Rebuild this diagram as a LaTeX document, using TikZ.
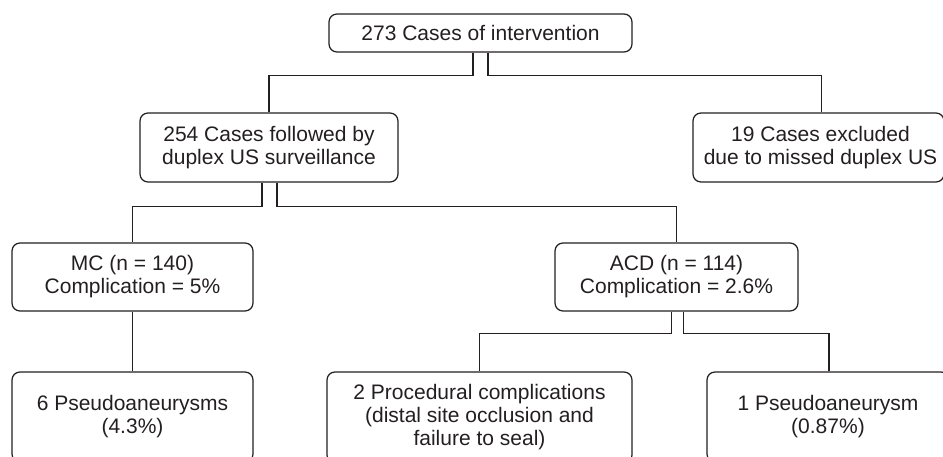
\documentclass[tikz,border=0pt]{standalone}
\usepackage{fontspec}
\setmainfont{Liberation Sans}
\definecolor{ink}{HTML}{231F20}
\begin{document}
\begin{tikzpicture}[x=1pt,y=-1pt,
  box/.style={draw=ink, line width=1.25pt, rounded corners=8pt, inner sep=0pt,
    align=center, text=ink, font=\fontsize{21}{23}\selectfont},
  link/.style={draw=ink, line width=1.25pt}]
\useasboundingbox (0,0) rectangle (943,457);
\clip (0,0) rectangle (943,457);
\node[box, minimum width=303pt, minimum height=38pt] (top) at (480.5,33) {273 Cases of intervention};
\node[box, minimum width=258pt, minimum height=69pt] (n254) at (269,147.5) {254 Cases followed by\\duplex US surveillance};
\node[box, minimum width=251pt, minimum height=69pt] (n19) at (818.5,147.5) {\hspace*{4pt}19 Cases excluded\\\hspace*{4pt}due to missed duplex US};
\node[box, minimum width=241pt, minimum height=68pt] (mc) at (132.5,277) {MC (n = 140)\\Complication = 5\%};
\node[box, minimum width=243pt, minimum height=68pt] (acd) at (676.5,277) {ACD (n = 114)\\Complication = 2.6\%};
\node[box, minimum width=241pt, minimum height=90pt] (p6) at (132.5,417) {6 Pseudoaneurysms\\(4.3\%)};
\node[box, minimum width=305pt, minimum height=91pt] (proc) at (479.5,417.5) {2 Procedural complications\\(distal site occlusion and\\failure to seal)};
\node[box, minimum width=242pt, minimum height=90pt] (p1) at (828,417) {1 Pseudoaneurysm\\(0.87\%)};
\draw[link] ([xshift=-7.5pt]top.south) -- ++(0,23) -| (n254.north);
\draw[link] ([xshift=7.5pt]top.south) -- ++(0,23) -| ([xshift=3pt]n19.north);
\draw[link] ([xshift=-7pt]n254.south) -- ++(0,24) -| (mc.north);
\draw[link] ([xshift=8pt]n254.south) -- ++(0,24) -| (acd.north);
\draw[link] (mc.south) -- (p6.north);
\draw[link] ([xshift=-5pt]acd.south) -- ++(0,22) -| (proc.north);
\draw[link] ([xshift=7pt]acd.south) -- ++(0,22) -| ([xshift=1pt]p1.north);
\end{tikzpicture}
\end{document}
